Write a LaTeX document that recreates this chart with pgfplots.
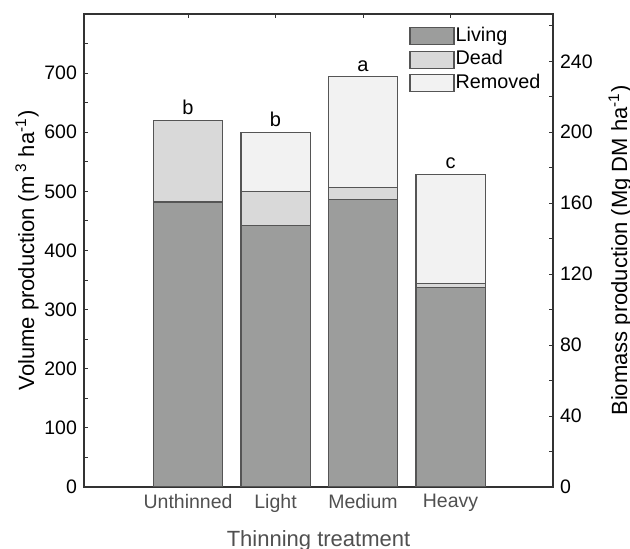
\documentclass[border=0pt]{standalone}
\usepackage{fontspec}
\setmainfont{Liberation Sans}
\usepackage{pgfplots}
\pgfplotsset{compat=1.18}
\definecolor{cLiv}{HTML}{9C9D9C}
\definecolor{cDead}{HTML}{D9D9D9}
\definecolor{cRem}{HTML}{F2F2F2}
\definecolor{cEdge}{HTML}{555555}
\definecolor{cTxt}{HTML}{505050}
\pgfplotsset{mylegend/.style={legend image code/.code={\draw[##1, line width=0.6pt] (0pt,-4.25pt) rectangle (22pt,4.25pt);}}}
\begin{document}
\begin{tikzpicture}
\useasboundingbox (-42pt,-31pt) rectangle (273pt,243.5pt);
\begin{axis}[
  at={(0pt,0pt)}, anchor=south west,
  scale only axis, width=234.5pt, height=236.5pt,
  ybar stacked, bar width=0.79,
  xmin=-0.189, xmax=5.171, ymin=0, ymax=800,
  xtick={1,2,3,4}, xticklabels={Unthinned,Light,Medium,Heavy},
  xtick pos=both, xticklabel pos=left, ytick pos=left,
  ytick={0,100,...,700}, minor ytick={50,150,...,750},
  tick align=inside, major tick length=2pt, minor tick length=2pt,
  tick style={black!80, line width=0.5pt},
  axis line style={black!80, line width=0.6pt},
  /pgf/number format/assume math mode=true,
  ticklabel style={font=\fontsize{9.75}{11}\selectfont},
  x tick label style={text=cTxt},
  xlabel={Thinning treatment},
  xlabel style={at={([yshift=-27pt]axis description cs:0.5,0)}, anchor=center, text=cTxt, font=\fontsize{11}{13}\selectfont},
  ylabel={Volume production (m\,\textsuperscript{3} ha\textsuperscript{-1})},
  ylabel style={at={([xshift=-28.5pt]axis description cs:0,0.5)}, anchor=center, font=\fontsize{11}{13}\selectfont},
  legend style={at={(axis description cs:0.693,0.978)}, anchor=north west, draw=none, fill=none, inner sep=0pt, row sep=0.5pt, font=\fontsize{9.9}{11}\selectfont, nodes={inner sep=0.5pt, text height=7.7pt, text depth=2.6pt}},
  legend cell align=left,
]
\addplot[fill=cLiv, draw=cEdge, line width=0.6pt, mylegend] coordinates {(1,482) (2,442) (3,486) (4,338)};
\addplot[fill=cDead, draw=cEdge, line width=0.6pt, mylegend] coordinates {(1,138) (2,58) (3,21) (4,6)};
\addplot[fill=cRem, draw=cEdge, line width=0.6pt, mylegend] coordinates {(1,0) (2,100) (3,187) (4,185)};
\legend{Living,Dead,Removed}
\end{axis}
% significance letters above the bar totals
\begin{axis}[
  at={(0pt,0pt)}, anchor=south west,
  scale only axis, width=234.5pt, height=236.5pt,
  xmin=-0.189, xmax=5.171, ymin=0, ymax=800,
  hide axis,
]
\addplot[only marks, mark=none, nodes near coords, point meta=explicit symbolic,
  every node near coord/.append style={anchor=south, inner sep=0pt, yshift=2.5pt, text=black, font=\fontsize{10}{11}\selectfont}]
  coordinates {(1,620)[b] (2,600)[b] (3,694)[a] (4,529)[c]};
\end{axis}
\begin{axis}[
  at={(0pt,0pt)}, anchor=south west,
  scale only axis, width=234.5pt, height=236.5pt,
  xmin=0, xmax=1, ymin=0, ymax=266.667,
  hide x axis, axis y line*=right,
  ytick={0,40,...,240}, minor ytick={20,60,...,260},
  tick align=inside, major tick length=2pt, minor tick length=2pt,
  tick style={black!80, line width=0.5pt},
  axis line style={black!80, line width=0.6pt},
  /pgf/number format/assume math mode=true,
  ticklabel style={font=\fontsize{9.75}{11}\selectfont},
  ylabel={Biomass production (Mg DM ha\textsuperscript{-1})},
  ylabel style={at={([xshift=33.5pt]axis description cs:1,0.5)}, anchor=center, font=\fontsize{11}{13}\selectfont},
]
\end{axis}
\end{tikzpicture}
\end{document}
